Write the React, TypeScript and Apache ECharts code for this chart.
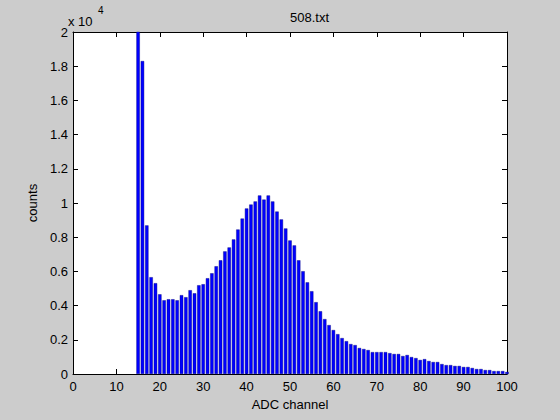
import React, { useEffect, useRef } from "react";
import * as echarts from "echarts";

const channels = [
  15, 16, 17, 18, 19, 20, 21, 22, 23, 24, 25, 26, 27, 28, 29, 30, 31, 32, 33, 34,
  35, 36, 37, 38, 39, 40, 41, 42, 43, 44, 45, 46, 47, 48, 49, 50, 51, 52, 53, 54,
  55, 56, 57, 58, 59, 60, 61, 62, 63, 64, 65, 66, 67, 68, 69, 70, 71, 72, 73, 74,
  75, 76, 77, 78, 79, 80, 81, 82, 83, 84, 85, 86, 87, 88, 89, 90, 91, 92, 93, 94,
  95, 96, 97, 98, 99, 100,
];

const counts = [
  25000, 18300, 8690, 5660, 5310, 4660, 4310, 4370, 4370, 4310, 4610, 4490, 4900, 4720, 5190, 5250, 5600, 5890, 6300, 6650,
  7170, 7400, 7870, 8450, 9090, 9680, 9910, 10090, 10440, 10200, 10440, 10090, 9500, 9040, 8510, 7810, 7520, 6650, 6010, 5360,
  4840, 4200, 3670, 3210, 2860, 2570, 2330, 2100, 1920, 1750, 1690, 1520, 1460, 1400, 1280, 1280, 1280, 1280, 1220, 1170,
  1170, 1050, 1110, 990, 930, 820, 870, 760, 700, 700, 580, 520, 520, 470, 470, 410, 410, 350, 290, 290,
  230, 230, 170, 170, 170, 120,
];

const xTicks = [0, 100, 10];
const yTicks = [0, 20000, 2000];

const FONT = "'Liberation Sans', Arial, Helvetica, sans-serif";

export default function App() {
  const ref = useRef<HTMLDivElement>(null);
  useEffect(() => {
    if (!ref.current) return;
    const chart = echarts.init(ref.current, null, { renderer: "svg" });
    const axisCommon = {
      axisLine: { show: true, onZero: false, lineStyle: { color: "#000", width: 1 } },
      axisTick: { show: true, inside: true, length: 5, lineStyle: { color: "#000" } },
      splitLine: { show: false },
    };
    chart.setOption({
      animation: false,
      backgroundColor: "#cccccc",
      textStyle: { fontFamily: FONT },
      grid: { left: 73, right: 53, top: 32, bottom: 46, show: true, backgroundColor: "#ffffff", borderWidth: 0 },
      xAxis: [
        {
          type: "value",
          min: xTicks[0],
          max: xTicks[1],
          interval: xTicks[2],
          position: "bottom",
          ...axisCommon,
          axisLabel: { color: "#000", fontSize: 13, margin: 6, fontFamily: FONT },
          name: "ADC channel",
          nameLocation: "middle",
          nameGap: 24,
          nameTextStyle: { color: "#000", fontSize: 13, fontFamily: FONT, verticalAlign: "top" },
        },
        {
          type: "value",
          min: xTicks[0],
          max: xTicks[1],
          interval: xTicks[2],
          position: "top",
          ...axisCommon,
          axisLabel: { show: false },
        },
      ],
      yAxis: [
        {
          type: "value",
          min: yTicks[0],
          max: yTicks[1],
          interval: yTicks[2],
          position: "left",
          ...axisCommon,
          axisLabel: {
            color: "#000",
            fontSize: 13,
            margin: 5,
            fontFamily: FONT,
            formatter: (v: number) => String(Math.round((v / 10000) * 10) / 10),
          },
          name: "counts",
          nameLocation: "middle",
          nameGap: 30,
          nameRotate: 90,
          nameTextStyle: { color: "#000", fontSize: 13, fontFamily: FONT },
        },
        {
          type: "value",
          min: yTicks[0],
          max: yTicks[1],
          interval: yTicks[2],
          position: "right",
          ...axisCommon,
          axisLabel: { show: false },
        },
      ],
      graphic: [
        {
          type: "text",
          left: 290,
          top: 11,
          style: { text: "508.txt", fill: "#000", font: `13px ${FONT}`, textAlign: "center" },
        },
        {
          type: "text",
          left: 68,
          top: 15,
          style: { text: "x 10", fill: "#000", font: `13px ${FONT}` },
        },
        {
          type: "text",
          left: 98,
          top: 5,
          style: { text: "4", fill: "#000", font: `10px ${FONT}` },
        },
      ],
      series: [
        {
          type: "bar",
          xAxisIndex: 0,
          yAxisIndex: 0,
          barWidth: 3.4,
          clip: true,
          itemStyle: { color: "#0000ff", borderColor: "#00007a", borderWidth: 0.4 },
          data: channels.map((c, i) => [c, counts[i]]),
        },
      ],
    });
    return () => chart.dispose();
  }, []);
  return (
    <div
      ref={ref}
      style={{ position: "fixed", left: 0, top: 0, width: 560, height: 420 }}
    />
  );
}
